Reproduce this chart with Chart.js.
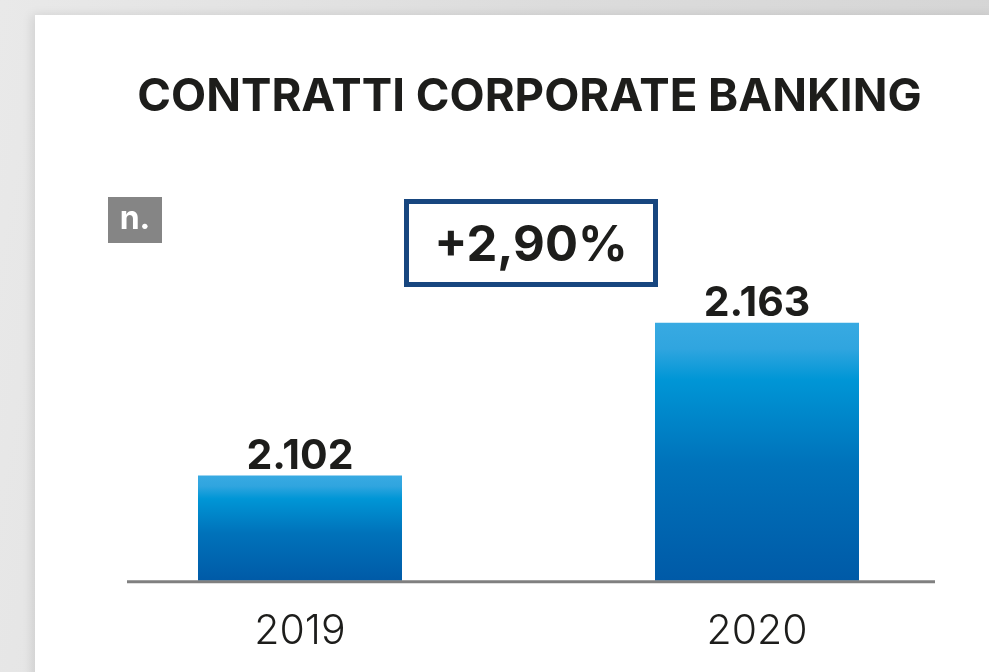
<!DOCTYPE html>
<html>
<head>
<meta charset="utf-8">
<script src="https://cdn.jsdelivr.net/npm/chart.js@4.4.1/dist/chart.umd.min.js"></script>
<style>
  html, body { margin: 0; padding: 0; }
  body {
    width: 989px; height: 672px; overflow: hidden; position: relative;
    background: linear-gradient(100deg, #e9e9e9 0%, #dcdcdc 50%, #d4d4d4 100%);
  }
  .card {
    position: absolute; left: 35px; top: 15px; width: 960px; height: 670px;
    background: #fff; box-shadow: -3px 0 10px rgba(0,0,0,0.10);
  }
  #chart { position: absolute; left: 0; top: 0; }
</style>
</head>
<body>
<div class="card"></div>
<canvas id="chart" width="989" height="672"></canvas>
<script>
// data
const categories = ["2019", "2020"];
const contratti = [2102, 2163];
const titolo = "CONTRATTI CORPORATE BANKING";
const unita = "n.";
const variazione = "+2,90%";
const yMin = 2060;
const yMax = 2214;

const ink = "#1d1d1b";

function formatIt(v) {
  return String(v).replace(/\B(?=(\d{3})+(?!\d))/g, ".");
}

// gradient per bar, from its own top to the base
function barGradient(ctx) {
  const chart = ctx.chart;
  if (!chart.chartArea) return "#0069b4";
  const y = chart.scales.y;
  const top = y.getPixelForValue(ctx.raw);
  const bottom = y.getPixelForValue(yMin);
  const g = chart.ctx.createLinearGradient(0, top, 0, bottom);
  g.addColorStop(0, "#38aae2");
  g.addColorStop(0.1, "#30a5df");
  g.addColorStop(0.22, "#0096d6");
  g.addColorStop(0.55, "#0072ba");
  g.addColorStop(1, "#005aa7");
  return g;
}

const decor = {
  id: "decor",
  beforeDraw(chart) {
    const c = chart.ctx;
    c.save();
    // title
    c.fillStyle = ink;
    c.textAlign = "center";
    c.textBaseline = "alphabetic";
    let size = 46;
    c.font = "bold " + size + "px Inter, 'Liberation Sans', sans-serif";
    const w = c.measureText(titolo).width;
    size = size * 785 / w;
    c.font = "bold " + size.toFixed(1) + "px Inter, 'Liberation Sans', sans-serif";
    c.fillText(titolo, 529.5, 111);

    // unit box
    c.fillStyle = "#858585";
    c.fillRect(108, 197, 54, 46);
    c.fillStyle = "#fff";
    c.font = "bold 32px Inter, 'Liberation Sans', sans-serif";
    c.textBaseline = "middle";
    c.fillText(unita, 135, 219);

    // change box
    c.strokeStyle = "#17467f";
    c.lineWidth = 5;
    c.strokeRect(406.5, 201.5, 249, 83);
    c.fillStyle = ink;
    c.font = "bold 49px Inter, 'Liberation Sans', sans-serif";
    c.fillText(variazione, 531, 246);
    c.restore();
  },
  afterDatasetsDraw(chart) {
    const c = chart.ctx;
    const y = chart.scales.y;
    const base = y.getPixelForValue(yMin);
    c.save();
    // baseline
    c.strokeStyle = "#808080";
    c.lineWidth = 3;
    c.beginPath();
    c.moveTo(127, base + 1);
    c.lineTo(935, base + 1);
    c.stroke();
    // value labels
    c.fillStyle = ink;
    c.textAlign = "center";
    c.textBaseline = "alphabetic";
    c.font = "bold 41px Inter, 'Liberation Sans', sans-serif";
    chart.getDatasetMeta(0).data.forEach((bar, i) => {
      c.fillText(formatIt(contratti[i]), bar.x, bar.y - 7);
    });
    c.restore();
  }
};

new Chart(document.getElementById("chart"), {
  type: "bar",
  data: {
    labels: categories,
    datasets: [{
      data: contratti,
      backgroundColor: barGradient,
      borderWidth: 0,
      categoryPercentage: 1,
      barPercentage: 0.4464
    }]
  },
  options: {
    responsive: false,
    devicePixelRatio: 1,
    animation: false,
    layout: { padding: { top: 195, left: 71.5, right: 3.5, bottom: -10 } },
    plugins: { legend: { display: false }, tooltip: { enabled: false }, title: { display: false } },
    scales: {
      y: { display: false, min: yMin, max: yMax },
      x: {
        grid: { display: false, drawTicks: false },
        border: { display: false },
        ticks: {
          color: ink,
          padding: 26,
          font: { family: "Inter, 'Liberation Sans', sans-serif", size: 41, weight: "300" }
        }
      }
    }
  },
  plugins: [decor]
});
</script>
</body>
</html>
